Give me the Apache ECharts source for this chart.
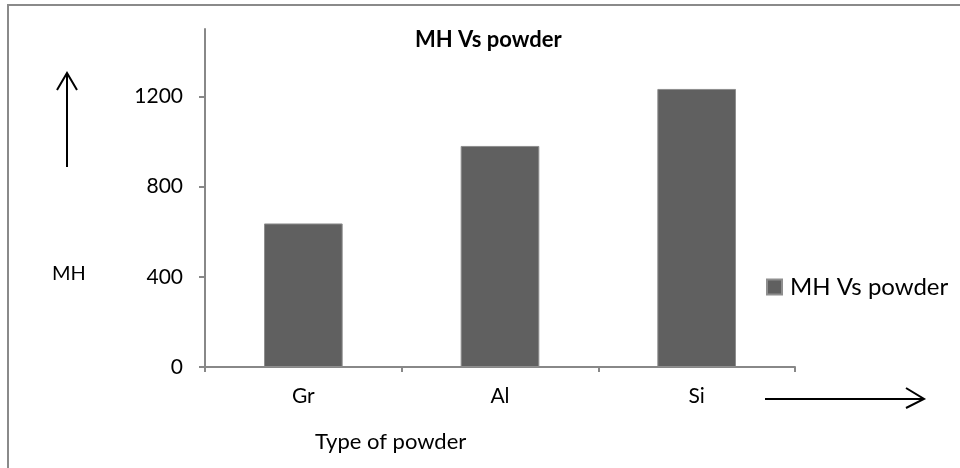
<!DOCTYPE html>
<html>
<head>
<meta charset="utf-8">
<script src="https://cdn.jsdelivr.net/npm/echarts@6/dist/echarts.min.js"></script>
<style>
  html, body { margin: 0; padding: 0; background: #fff; }
  #chartmain { width: 960px; height: 468px; }
</style>
</head>
<body>
<div id="chartmain"></div>
<script>
// data
var powders = ['Gr', 'Al', 'Si'];
var mhValues = [637, 981, 1234];
var yTicks = [0, 400, 800, 1200];

var font = 'Lato';
var axisGray = '#888888';

var option = {
	animation: false,
	backgroundColor: '#ffffff',
	textStyle: { fontFamily: font },
	title: {
		text: 'MH Vs powder',
		left: 415,
		top: 29,
		padding: 0,
		textStyle: { fontFamily: font, fontSize: 22, fontWeight: 'bold', color: '#000' }
	},
	legend: {
		data: ['MH Vs powder'],
		left: 766,
		top: 275,
		padding: 0,
		orient: 'vertical',
		icon: 'rect',
		itemWidth: 15,
		itemHeight: 15,
		textStyle: { fontFamily: font, fontSize: 24, color: '#000', padding: [0, 0, 0, 3] }
	},
	grid: {
		left: 205,
		right: 165,
		top: 29,
		bottom: 101
	},
	xAxis: [{
		type: 'category',
		data: powders,
		axisLine: { lineStyle: { color: axisGray, width: 2 } },
		axisTick: { show: true, length: 5, lineStyle: { color: axisGray, width: 2 } },
		axisLabel: { color: '#000', fontFamily: font, fontSize: 21, margin: 19 }
	}],
	yAxis: [{
		type: 'value',
		min: 0,
		max: 1500,
		interval: 100,
		splitLine: { show: false },
		axisLine: { show: true, lineStyle: { color: axisGray, width: 2 } },
		axisTick: { show: true, length: 6, customValues: yTicks, lineStyle: { color: axisGray, width: 2 } },
		axisLabel: {
			color: '#000', fontFamily: font, fontSize: 21, margin: 22, customValues: yTicks,
			formatter: function (v) { return String(v); }
		}
	}],
	series: [{
		name: 'MH Vs powder',
		type: 'bar',
		data: mhValues,
		barWidth: '40%',
		itemStyle: { color: '#606060', borderColor: '#8e8e8e', borderWidth: 1 }
	}],
	graphic: [
		// outer frame (top and left edges visible)
		{ type: 'polyline', shape: { points: [[8, 468], [8, 5], [960, 5]] }, style: { stroke: '#8a8a8a', lineWidth: 2, fill: null } },
		// y arrow
		{ type: 'line', shape: { x1: 67, y1: 167, x2: 67, y2: 73 }, style: { stroke: '#000', lineWidth: 2 } },
		{ type: 'polyline', shape: { points: [[57, 90], [67, 73], [77, 90]] }, style: { stroke: '#000', lineWidth: 2, fill: null } },
		// x arrow
		{ type: 'line', shape: { x1: 765, y1: 399, x2: 924, y2: 399 }, style: { stroke: '#000', lineWidth: 2 } },
		{ type: 'polyline', shape: { points: [[906, 388], [924, 399], [906, 408]] }, style: { stroke: '#000', lineWidth: 2, fill: null } },
		// axis titles
		{ type: 'text', left: 52, top: 264, style: { text: 'MH', font: '20px Lato', fill: '#000' } },
		{ type: 'text', left: 315, top: 431, style: { text: 'Type of powder', font: '22px Lato', fill: '#000' } }
	]
};

var myChart = echarts.init(document.getElementById('chartmain'));
myChart.setOption(option);
</script>
</body>
</html>
